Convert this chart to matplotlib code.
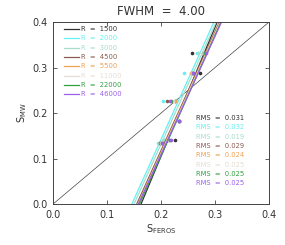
import matplotlib
matplotlib.use("Agg")
import matplotlib.pyplot as plt
import numpy as np

resolutions = ["1500", "2000", "3000", "4500", "5500", "11000", "22000", "46000"]
colors = ["#333333", "#66f0f0", "#a8dccc", "#8a5a50", "#f0a050", "#e6dcd4", "#30a040", "#9a60e8"]
rms = ["0.031", "0.032", "0.019", "0.029", "0.024", "0.025", "0.025", "0.025"]

# fitted lines: x at y=0 and x at y=0.4
line_x0 = [0.163, 0.146, 0.150, 0.155, 0.157, 0.158, 0.160, 0.158]
line_x4 = [0.304, 0.298, 0.302, 0.308, 0.309, 0.310, 0.311, 0.312]

# star points (S_MW values) and S_FEROS values per resolution
s_mw = [0.333, 0.288, 0.226, 0.182, 0.141, 0.135]
s_feros = [
    [0.257, 0.272, 0.226, 0.234, 0.225, 0.198],
    [0.266, 0.243, 0.203, 0.234, 0.205, 0.195],
    [0.268, 0.259, 0.228, 0.234, 0.204, 0.197],
    [0.280, 0.258, 0.211, 0.234, 0.212, 0.199],
    [0.279, 0.256, 0.226, 0.234, 0.214, 0.200],
    [0.281, 0.258, 0.222, 0.234, 0.215, 0.200],
    [0.282, 0.259, 0.218, 0.234, 0.216, 0.201],
    [0.284, 0.260, 0.217, 0.234, 0.218, 0.201],
]

fig = plt.figure(figsize=(2.85, 2.45), dpi=100)
ax = fig.add_axes([0.186, 0.167, 0.758, 0.743])
ax.set_xlim(0, 0.4)
ax.set_ylim(0, 0.4)

ax.plot([0, 0.4], [0, 0.4], color="#444444", lw=0.5)

for i in range(len(resolutions)):
    ax.plot([line_x0[i], line_x4[i]], [0, 0.4], color=colors[i], lw=0.9)
    ax.plot(s_feros[i], s_mw, "o", color=colors[i], ms=2.6, mew=0)

# legend
for i, r in enumerate(resolutions):
    yp = 0.385 - i * 0.0205
    ax.plot([0.020, 0.048], [yp, yp], color=colors[i], lw=0.9)
    ax.text(0.051, yp, "R  =  " + r, color=colors[i], fontsize=4.9, va="center")
    ax.text(0.264, 0.189 - i * 0.0205, "RMS  =  " + rms[i], color=colors[i],
            fontsize=4.9, va="center")

ax.set_xticks([0.0, 0.1, 0.2, 0.3, 0.4])
ax.set_yticks([0.0, 0.1, 0.2, 0.3, 0.4])
ax.set_xticklabels(["0.0", "0.1", "0.2", "0.3", "0.4"])
ax.set_yticklabels(["0.0", "0.1", "0.2", "0.3", "0.4"])
ax.tick_params(direction="in", top=True, right=True, length=3, width=0.6,
               labelsize=7, colors="#444444", labelcolor="#333333", pad=4)
for s in ax.spines.values():
    s.set_linewidth(0.7)
    s.set_color("#444444")

ax.set_xlabel(r"S$_{\rm FEROS}$", fontsize=7, color="#333333", labelpad=2)
ax.set_ylabel(r"S$_{\rm MW}$", fontsize=7, color="#333333", labelpad=2)
ax.set_title("FWHM  =  4.00", fontsize=8.5, color="#333333", pad=5)

fig.savefig("out.png", dpi=100)
